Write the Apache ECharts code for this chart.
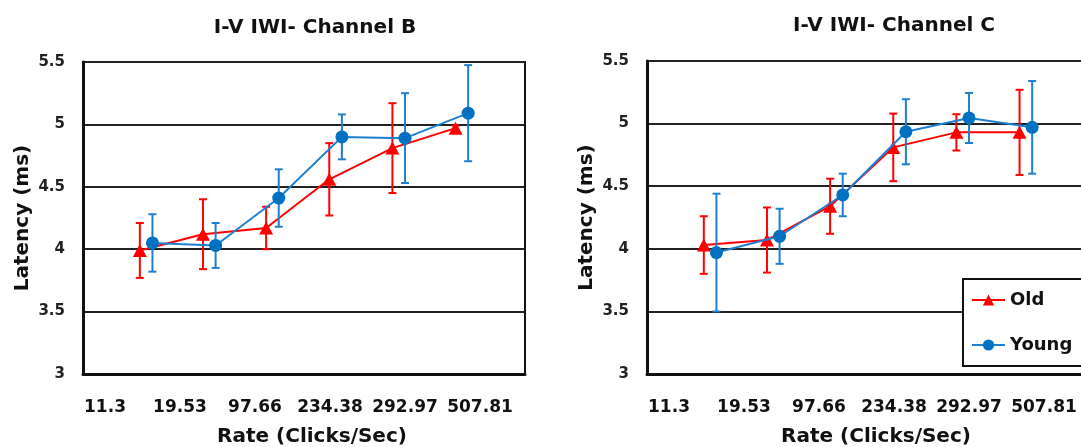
<!DOCTYPE html>
<html>
<head>
<meta charset="utf-8">
<script src="https://cdn.jsdelivr.net/npm/echarts@6/dist/echarts.min.js"></script>
<style>
  html, body { margin: 0; padding: 0; background: #fff; }
  #chart { width: 1081px; height: 447px; }
</style>
</head>
<body>
<div id="chart"></div>
<script>
// Stimulation rates (category labels under each panel)
const rates = ['11.3', '19.53', '97.66', '234.38', '292.97', '507.81'];

// Channel B latency (ms): means and error half-widths
const chanB_oldMean   = [3.99, 4.12, 4.17, 4.56, 4.81, 4.97];
const chanB_oldErr    = [0.22, 0.28, 0.17, 0.29, 0.36, 0.02];
const chanB_youngMean = [4.05, 4.03, 4.41, 4.90, 4.89, 5.09];
const chanB_youngErr  = [0.23, 0.18, 0.23, 0.18, 0.36, 0.385];

// Channel C latency (ms): means and error half-widths
const chanC_oldMean   = [4.03, 4.07, 4.34, 4.81, 4.93, 4.93];
const chanC_oldErr    = [0.23, 0.26, 0.22, 0.27, 0.145, 0.34];
const chanC_youngMean = [3.97, 4.10, 4.43, 4.935, 5.045, 4.97];
const chanC_youngErr  = [0.47, 0.22, 0.17, 0.26, 0.20, 0.37];

const yTicks = { min: 3, max: 5.5, interval: 0.5 };

const FONT = 'DejaVu Sans';
const RED = '#FF0000';
const BLUE_MARK = '#0070C0';
const BLUE_LINE = '#1E7FD0';
const DODGE = 0.1;      // horizontal offset between the two groups
const CAP = 4;          // half width of error bar caps (px)

function points(means, dodge) {
  return means.map((m, i) => [i + 1 + dodge, m]);
}
function errs(means, err, dodge) {
  return means.map((m, i) => [i + 1 + dodge, m - err[i], m + err[i]]);
}

function errorRender(color) {
  return function (params, api) {
    const x = api.value(0);
    const top = api.coord([x, api.value(2)]);
    const bot = api.coord([x, api.value(1)]);
    const style = { stroke: color, lineWidth: 2 };
    return {
      type: 'group',
      children: [
        { type: 'line', shape: { x1: top[0], y1: top[1], x2: bot[0], y2: bot[1] }, style },
        { type: 'line', shape: { x1: top[0] - CAP, y1: top[1], x2: top[0] + CAP, y2: top[1] }, style },
        { type: 'line', shape: { x1: bot[0] - CAP, y1: bot[1], x2: bot[0] + CAP, y2: bot[1] }, style }
      ]
    };
  };
}

function panelSeries(axis, oldMean, oldErr, youngMean, youngErr) {
  return [
    {
      type: 'custom', name: 'Old-err', xAxisIndex: axis, yAxisIndex: axis,
      renderItem: errorRender(RED), data: errs(oldMean, oldErr, -DODGE),
      encode: { x: 0, y: [1, 2] }, silent: true, z: 2
    },
    {
      type: 'line', name: 'Old', xAxisIndex: axis, yAxisIndex: axis,
      data: points(oldMean, -DODGE), symbol: 'triangle', symbolSize: [14, 13],
      lineStyle: { color: RED, width: 2 }, itemStyle: { color: RED },
      z: 3
    },
    {
      type: 'custom', name: 'Young-err', xAxisIndex: axis, yAxisIndex: axis,
      renderItem: errorRender(BLUE_LINE), data: errs(youngMean, youngErr, DODGE),
      encode: { x: 0, y: [1, 2] }, silent: true, z: 4
    },
    {
      type: 'line', name: 'Young', xAxisIndex: axis, yAxisIndex: axis,
      data: points(youngMean, DODGE), symbol: 'circle', symbolSize: 13,
      lineStyle: { color: BLUE_LINE, width: 2 }, itemStyle: { color: BLUE_MARK },
      z: 5
    }
  ];
}

function plotXAxis(grid) {
  return {
    type: 'value', gridIndex: grid, min: 0, max: 7,
    axisLine: { show: true, lineStyle: { color: '#111', width: 3 } },
    axisTick: { show: false },
    axisLabel: { show: false }, splitLine: { show: false },
    name: 'Rate (Clicks/Sec)', nameLocation: 'middle', nameGap: 53,
    nameTextStyle: { fontFamily: FONT, fontWeight: 'bold', fontSize: 20, color: '#111', padding: [0, 0, 0, 16] }
  };
}
function labelXAxis(grid) {
  return {
    type: 'category', gridIndex: grid, data: rates, boundaryGap: true,
    axisLine: { show: false }, axisTick: { show: false }, splitLine: { show: false },
    axisLabel: { fontFamily: FONT, fontWeight: 'bold', fontSize: 17, color: '#111', margin: 25, interval: 0 }
  };
}
function plotYAxis(grid) {
  return {
    type: 'value', gridIndex: grid, min: yTicks.min, max: yTicks.max, interval: yTicks.interval,
    axisLine: { show: true, lineStyle: { color: '#111', width: 3 } },
    axisTick: { show: false },
    axisLabel: { fontFamily: FONT, fontWeight: 'bold', fontSize: 15, color: '#222', margin: 18 },
    splitLine: { show: true, lineStyle: { color: '#222', width: 2 } },
    name: 'Latency (ms)', nameLocation: 'middle', nameGap: 50, nameRotate: 90,
    nameTextStyle: { fontFamily: FONT, fontWeight: 'bold', fontSize: 20, color: '#111' }
  };
}
function hiddenYAxis(grid) {
  return { type: 'value', gridIndex: grid, show: false, min: 0, max: 1 };
}

// Fixed plot boxes; the second panel runs past the right edge of the canvas
const gridBase = { outerBoundsMode: 'none', containLabel: false };

const option = {
  backgroundColor: '#fff',
  animation: false,
  title: [
    { text: 'I-V IWI- Channel B', left: 310, top: 13, textAlign: 'center',
      textStyle: { fontFamily: FONT, fontWeight: 'bold', fontSize: 20, color: '#111' } },
    { text: 'I-V IWI- Channel C', left: 889, top: 11, textAlign: 'center',
      textStyle: { fontFamily: FONT, fontWeight: 'bold', fontSize: 20, color: '#111' } }
  ],
  legend: {
    data: ['Old', 'Young'],
    orient: 'vertical', left: 963, top: 279,
    backgroundColor: '#fff', borderColor: '#111', borderWidth: 2,
    padding: [12, 14, 12, 8], itemGap: 27, itemWidth: 33, itemHeight: 14,
    textStyle: { fontFamily: FONT, fontWeight: 'bold', fontSize: 18, color: '#111' },
    selectedMode: false
  },
  grid: [
    { ...gridBase, left: 83, top: 62, width: 442, height: 312, show: true, borderColor: '#111', borderWidth: 2, backgroundColor: '#fff' },
    { ...gridBase, left: 67.5, top: 62, width: 450, height: 312 },
    { ...gridBase, left: 647, top: 61, width: 442, height: 313, show: true, borderColor: '#111', borderWidth: 2, backgroundColor: '#fff' },
    { ...gridBase, left: 631.5, top: 61, width: 450, height: 313 }
  ],
  xAxis: [plotXAxis(0), labelXAxis(1), plotXAxis(2), labelXAxis(3)],
  yAxis: [plotYAxis(0), hiddenYAxis(1), plotYAxis(2), hiddenYAxis(3)],
  series: [
    ...panelSeries(0, chanB_oldMean, chanB_oldErr, chanB_youngMean, chanB_youngErr),
    ...panelSeries(2, chanC_oldMean, chanC_oldErr, chanC_youngMean, chanC_youngErr)
  ]
};

const chart = echarts.init(document.getElementById('chart'), null, { renderer: 'canvas' });
chart.setOption(option);
</script>
</body>
</html>
